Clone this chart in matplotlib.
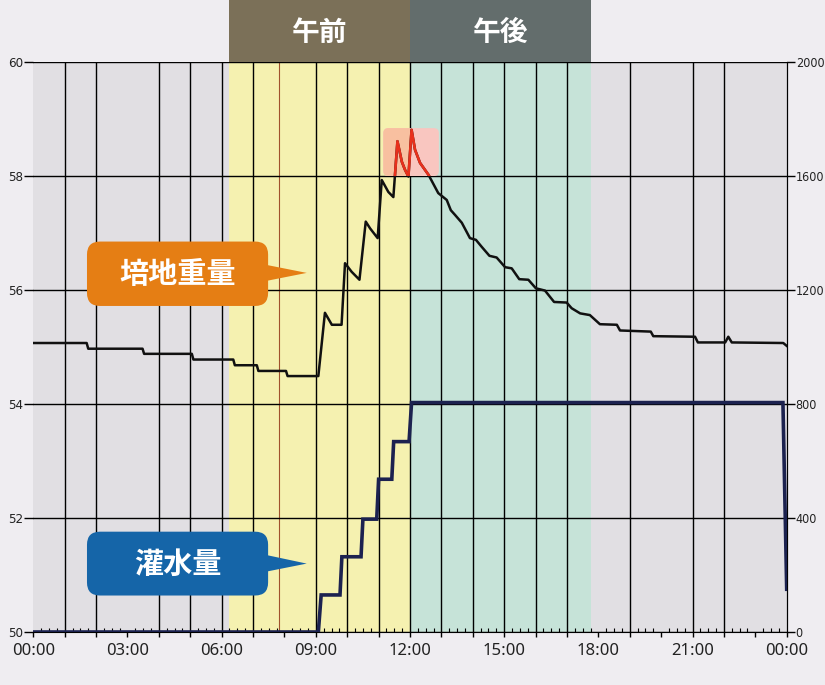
import matplotlib
matplotlib.use("Agg")
import matplotlib.pyplot as plt
from matplotlib.patches import FancyBboxPatch, Polygon, Rectangle
from matplotlib import font_manager as fm
import matplotlib.transforms as mtransforms

# ---------------- data ----------------
weight_hours = [0.00, 1.70, 1.75, 3.48, 3.53, 5.05, 5.10, 6.37, 6.42, 7.12, 7.17, 8.05, 8.10,
                9.08, 9.29, 9.51, 9.82, 9.93, 10.14, 10.39, 10.59, 10.73, 10.97, 11.10, 11.13,
                11.31, 11.47, 11.60, 11.74, 11.84, 11.95, 12.05, 12.16, 12.32, 12.59, 12.90,
                13.17, 13.30, 13.43, 13.65, 13.91, 14.10, 14.28, 14.53, 14.76, 15.03, 15.24,
                15.48, 15.77, 16.01, 16.30, 16.59, 16.99, 17.15, 17.42, 17.73, 18.05, 18.59,
                18.69, 19.67, 19.75, 21.08, 21.17, 22.04, 22.14, 22.25, 23.89, 24.00]
weight_values = [55.07, 55.07, 54.97, 54.97, 54.88, 54.88, 54.78, 54.78, 54.68, 54.68, 54.58,
                 54.58, 54.49, 54.49, 55.60, 55.39, 55.39, 56.47, 56.32, 56.18, 57.20, 57.08,
                 56.91, 57.93, 57.90, 57.72, 57.63, 58.61, 58.25, 58.11, 57.99, 58.81, 58.46,
                 58.23, 58.02, 57.70, 57.58, 57.40, 57.32, 57.18, 56.91, 56.88, 56.76, 56.60,
                 56.57, 56.40, 56.38, 56.19, 56.18, 56.03, 55.99, 55.79, 55.78, 55.68, 55.59,
                 55.56, 55.40, 55.39, 55.29, 55.27, 55.19, 55.18, 55.08, 55.08, 55.18, 55.08,
                 55.07, 55.02]

irrig_hours = [0.00, 9.08, 9.17, 9.77, 9.83, 10.44, 10.50, 10.94, 11.00, 11.42, 11.48, 11.97,
               12.05, 23.88, 24.00]
irrig_values = [0, 0, 130, 130, 264, 264, 396, 396, 536, 536, 668, 668, 805, 805, 150]

left_ticks = [50, 52, 54, 56, 58, 60]
right_ticks = [0, 400, 800, 1200, 1600, 2000]
x_tick_hours = [0, 3, 6, 9, 12, 15, 18, 21, 24]
x_tick_labels = ["00:00", "03:00", "06:00", "09:00", "12:00", "15:00", "18:00", "21:00", "00:00"]
grid_hours = [1, 2, 4, 5, 6, 7, 9, 10, 11, 12, 13, 14, 15, 16, 17, 19, 21, 22]
marker_hour = 7.83

period_labels = ["午前", "午後"]
period_bounds = [6.23, 12.0, 17.76]
highlight_hours = [11.15, 12.92]
highlight_values = [58.0, 58.84]

weight_label = "培地重量"
irrig_label = "灌水量"

# ---------------- style ----------------
BG = "#efedf1"
PLOT_BG = "#e1dfe3"
AM_BG = "#f5f1b0"
PM_BG = "#c6e3d8"
AM_HEAD = "#7b7058"
PM_HEAD = "#636d6c"
ORANGE = "#e57e14"
BLUE = "#1565a8"
NAVY = "#1c2250"
RED = "#e8301c"
HL_AM = "#f8c0a0"
HL_PM = "#f9c6c0"

CJK = ["Noto Sans CJK JP", "DejaVu Sans"]


def pick_narrow():
    order = ["ultra-condensed", "extra-condensed", "condensed", "semi-condensed"]
    best = None
    best_rank = 99
    for f in fm.fontManager.ttflist:
        nm = (f.name + " " + f.fname).lower()
        st = str(f.stretch).lower()
        rank = None
        if st in order:
            rank = order.index(st)
        elif "extracondensed" in nm.replace("-", "").replace(" ", ""):
            rank = 1
        elif "condensed" in nm or "narrow" in nm:
            rank = 2
        if rank is None:
            continue
        if "italic" in nm or "oblique" in nm or "bold" in nm.split("/")[-1]:
            continue
        if rank < best_rank:
            best_rank = rank
            best = f.fname
    return best


_narrow = pick_narrow()


def narrow_fp(size):
    if _narrow:
        return fm.FontProperties(fname=_narrow, size=size)
    return fm.FontProperties(family="DejaVu Sans", size=size * 0.8)


W, H = 825, 685
fig = plt.figure(figsize=(W / 100, H / 100), dpi=100, facecolor=BG)
L, R, B, T = 33.3, 786.7, 632, 62
ax = fig.add_axes([L / W, 1 - B / H, (R - L) / W, (B - T) / H])
ax.set_facecolor(PLOT_BG)
ax.set_xlim(0, 24)
ax.set_ylim(50, 60)

# period backgrounds
ax.axvspan(period_bounds[0], period_bounds[1], color=AM_BG, lw=0, zorder=0)
ax.axvspan(period_bounds[1], period_bounds[2], color=PM_BG, lw=0, zorder=0)

# grid
for h in grid_hours:
    ax.axvline(h, color="black", lw=1.0, zorder=1)
ax.axvline(marker_hour, color="#a0522d", lw=0.8, zorder=1)
for v in left_ticks:
    ax.axhline(v, color="black", lw=1.0, zorder=1)

# headers
blend = mtransforms.blended_transform_factory(ax.transData, ax.transAxes)
head_h = T / (B - T)
for i, (lab, col) in enumerate(zip(period_labels, [AM_HEAD, PM_HEAD])):
    x0, x1 = period_bounds[i], period_bounds[i + 1]
    ax.add_patch(Rectangle((x0, 1.0), x1 - x0, head_h, transform=blend, facecolor=col,
                           edgecolor="none", clip_on=False, zorder=2))
    ax.text((x0 + x1) / 2, 1.0 + head_h * 0.47, lab, transform=blend, ha="center", va="center",
            color="white", fontsize=20, fontweight="bold", family=CJK, clip_on=False, zorder=3)

# highlight rectangle (rounded, aspect-corrected)
px_x = (R - L) / 24.0
px_y = (B - T) / 10.0
asp = px_x / px_y


def hl_patch(**kw):
    return FancyBboxPatch((highlight_hours[0], highlight_values[0]),
                          highlight_hours[1] - highlight_hours[0],
                          highlight_values[1] - highlight_values[0],
                          boxstyle="round,pad=0,rounding_size=%f" % (5 / px_x),
                          mutation_aspect=asp, **kw)


ax.add_patch(hl_patch(facecolor=HL_PM, edgecolor="none", zorder=2))
am_part = hl_patch(facecolor=HL_AM, edgecolor="none", zorder=2.1)
ax.add_patch(am_part)
am_part.set_clip_path(Rectangle((highlight_hours[0] - 1, 50), period_bounds[1] - highlight_hours[0] + 1,
                                10, transform=ax.transData))

# weight line
ax.plot(weight_hours, weight_values, color="#111111", lw=1.8, zorder=4)
clipbox = hl_patch(transform=ax.transData)
red_line, = ax.plot(weight_hours, weight_values, color=RED, lw=1.9, zorder=5)
red_line.set_clip_path(clipbox)

# axes ticks
ax.set_yticks(left_ticks)
ax.set_yticklabels([str(v) for v in left_ticks], fontproperties=narrow_fp(9.5), color="#222222")
ax.tick_params(axis="y", length=6.5, width=1, pad=1, direction="out", color="black")
ax.set_xticks(list(range(25)))
ax.set_xticklabels([x_tick_labels[x_tick_hours.index(h)] if h in x_tick_hours else ""
                    for h in range(25)], family=["Noto Sans", "DejaVu Sans"], fontsize=12,
                   color="#222222")
ax.set_xticks([q / 4 for q in range(97) if q % 4], minor=True)
ax.tick_params(axis="x", which="major", length=3.6, width=1, pad=4, direction="out")
ax.tick_params(axis="x", which="minor", length=3, width=0.8, direction="in")
for s in ["top", "left"]:
    ax.spines[s].set_visible(False)
ax.spines["bottom"].set_color("black")
ax.spines["right"].set_color("black")

# right axis: irrigation
ax2 = ax.twinx()
ax2.set_ylim(0, 2000)
ax2.set_yticks(right_ticks)
ax2.set_yticklabels([str(v) for v in right_ticks], fontproperties=narrow_fp(9), color="#222222")
ax2.tick_params(axis="y", length=6, width=1, pad=0.5, direction="out")
for s in ["top", "left", "bottom"]:
    ax2.spines[s].set_visible(False)
ax2.spines["right"].set_color("black")
ax2.plot(irrig_hours, irrig_values, color=NAVY, lw=2.6, zorder=4, solid_joinstyle="miter")


# callouts (in left-axis data coordinates, drawn on top)
def callout(x0, x1, y0, y1, tip, base_y0, base_y1, col, label):
    box = FancyBboxPatch((x0, y0), x1 - x0, y1 - y0,
                         boxstyle="round,pad=0,rounding_size=%f" % (13 / px_x),
                         mutation_aspect=asp, facecolor=col, edgecolor="none",
                         transform=ax.transData, clip_on=False, zorder=10)
    ax2.add_patch(box)
    tri = Polygon([(x1 - 0.05, base_y0), tip, (x1 - 0.05, base_y1)], closed=True,
                  facecolor=col, edgecolor="none", transform=ax.transData,
                  clip_on=False, zorder=10)
    ax2.add_patch(tri)
    ax2.text((x0 + x1) / 2, (y0 + y1) / 2, label, transform=ax.transData, ha="center",
             va="center", color="white", fontsize=21, fontweight="bold", family=CJK, zorder=11)


callout(1.71, 7.48, 55.72, 56.85, (8.71, 56.30), 56.16, 56.44, ORANGE, weight_label)
callout(1.71, 7.48, 50.64, 51.76, (8.71, 51.20), 51.06, 51.35, BLUE, irrig_label)

fig.savefig("out.png", dpi=100, facecolor=BG)
